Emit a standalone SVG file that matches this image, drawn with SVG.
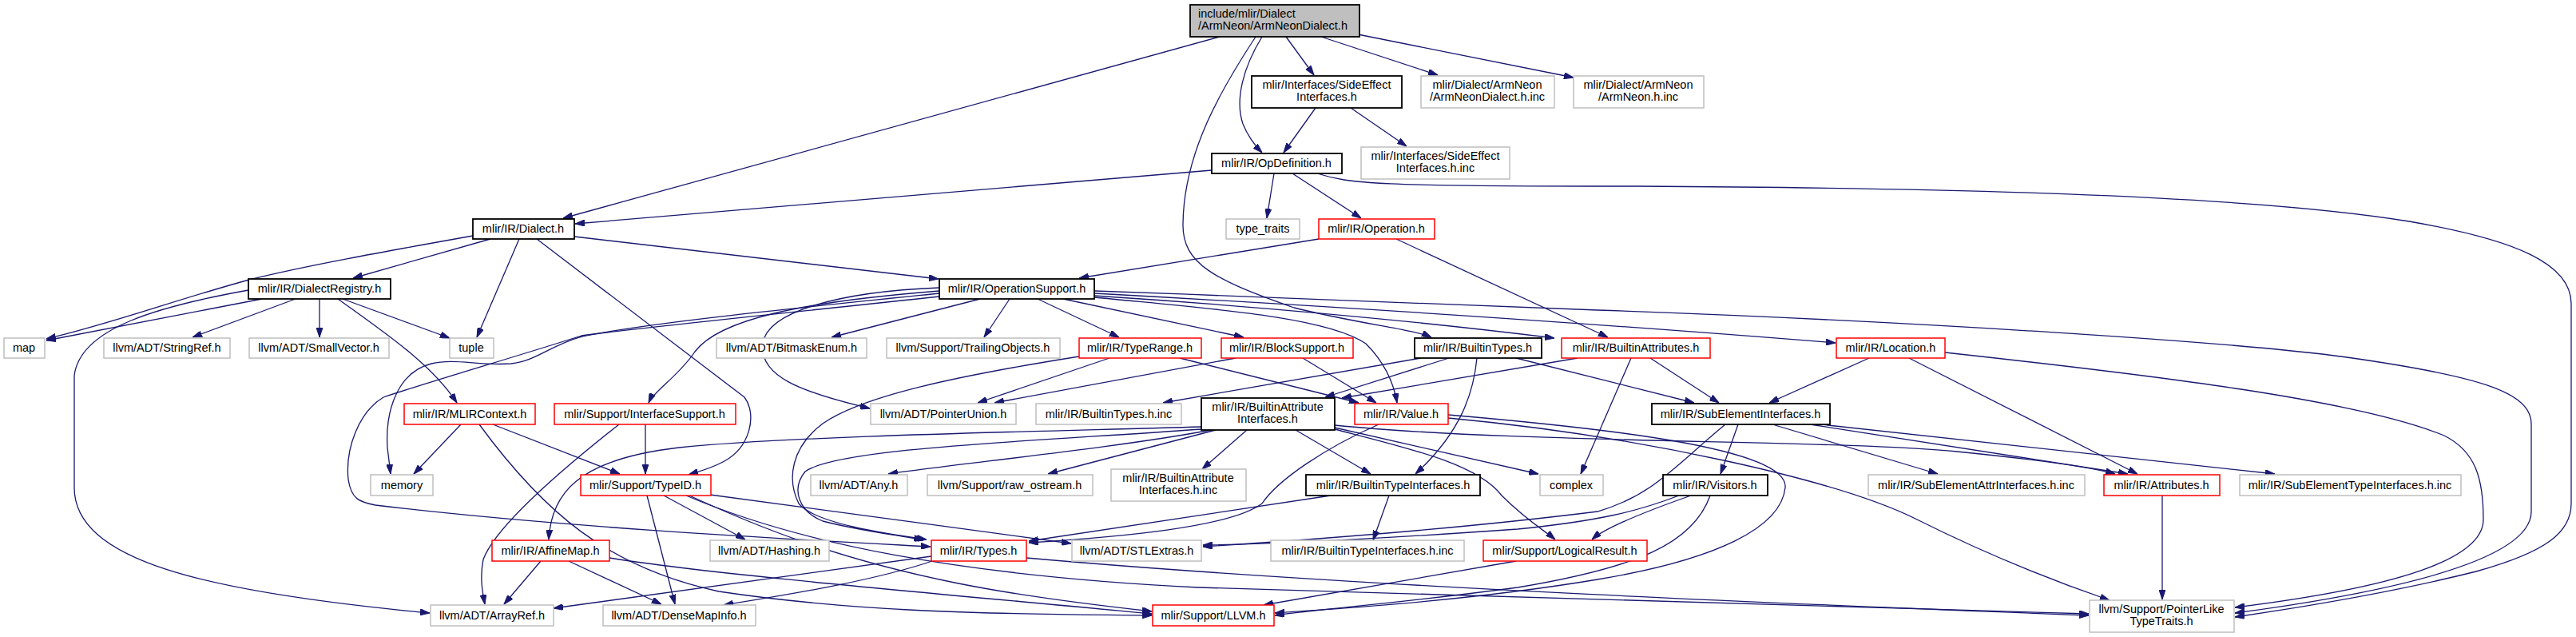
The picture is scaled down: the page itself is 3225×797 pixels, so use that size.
<svg xmlns="http://www.w3.org/2000/svg" width="3225" height="797" viewBox="0 0 3225 797">
<defs>
<marker id="a" markerWidth="12" markerHeight="8" refX="12" refY="4" orient="auto" markerUnits="userSpaceOnUse"><path d="M0,0 L12,4 L0,8 z" fill="#191970" stroke="#191970" stroke-width="1"/></marker>
</defs>
<style>
.k{fill:#fff;stroke:#000;stroke-width:1.8}
.r{fill:#fff;stroke:#ff0000;stroke-width:1.5}
.g{fill:#fff;stroke:#bfbfbf;stroke-width:1.5}
.root{fill:#bfbfbf;stroke:#000;stroke-width:1.8}
text{font-family:"Liberation Sans",Arial,sans-serif;font-size:14.5px;fill:#000;text-anchor:middle}
.e path{fill:none;stroke:#191970;stroke-width:1.3;marker-end:url(#a)}
</style>
<rect width="3225" height="797" fill="#fff"/>
<g class="e">
<path d="M1527,46 L705,273"/>
<path d="M1572,46 C1530,110 1482,190 1481,280 C1480,330 1520,350 1620,385 C1700,405 1770,412 1792,422"/>
<path d="M1580,46 C1556,85 1546,125 1556,155 C1563,172 1572,183 1580,191"/>
<path d="M1610,46 L1645,94"/>
<path d="M1654,46 L1800,94"/>
<path d="M1700,43 L1970,97"/>
<path d="M1647,135 L1607,191"/>
<path d="M1691,135 L1761,183"/>
<path d="M1517,213 L720,280"/>
<path d="M1595,217 L1586,273"/>
<path d="M1618,217 L1704,273"/>
<path d="M1649,217 C1690,230 1720,233 2050,233 C2400,235 2800,242 3016,277 C3150,300 3219,330 3219,380 L3219,630 C3219,665 3190,690 3100,715 C3000,740 2880,760 2798,772"/>
<path d="M1651,299 L1351,348"/>
<path d="M1748,299 L2013,422"/>
<path d="M614,299 L442,348"/>
<path d="M719,296 L1175,349"/>
<path d="M592,295 C480,315 380,333 312,350 C220,375 140,405 58,424"/>
<path d="M650,299 L597,422"/>
<path d="M672,299 L932,497 C948,518 940,560 905,578 C890,586 875,590 862,594"/>
<path d="M328,374 L58,426"/>
<path d="M370,374 L241,422"/>
<path d="M400,374 L400,422"/>
<path d="M429,374 L563,423"/>
<path d="M423,374 C480,415 540,455 572,504"/>
<path d="M311,363 C200,383 100,410 93,470 L93,610 C93,700 250,740 538,767"/>
<path d="M1227,374 L1041,422"/>
<path d="M1264,374 L1232,422"/>
<path d="M1299,374 L1401,422"/>
<path d="M1331,374 L1557,422"/>
<path d="M1370,370 C1600,385 1800,405 1946,423"/>
<path d="M1370,367 C1700,385 2000,405 2298,429"/>
<path d="M1370,364 C1600,372 1850,383 2000,388 C2400,402 2800,428 2938,447 C3100,470 3169,490 3169,530 L3169,640 C3169,700 3000,740 2798,767"/>
<path d="M1176,360 C1050,365 960,390 955,430 C950,470 1000,490 1089,511"/>
<path d="M1176,364 C1000,378 900,400 870,440 C850,470 818,490 812,504"/>
<path d="M1176,367 C1000,385 800,405 725,422 C690,432 670,452 640,455 C600,458 570,448 540,455 C500,465 482,510 485,560 L489,593"/>
<path d="M1176,371 C1000,390 800,410 728,420 C650,445 530,480 480,497 C450,515 432,560 436,600 C440,625 450,628 470,632 C700,660 1000,675 1165,684"/>
<path d="M1370,372 C1500,385 1660,395 1710,430 C1735,455 1745,480 1749,504"/>
<path d="M1389,448 L1224,504"/>
<path d="M1477,448 L1701,504"/>
<path d="M1351,446 C1200,470 1080,495 1030,530 C990,560 985,600 1000,630 C1020,655 1110,668 1160,675"/>
<path d="M1547,448 L1245,504"/>
<path d="M1631,448 L1723,504"/>
<path d="M1779,448 L1456,504"/>
<path d="M1814,448 L1659,497"/>
<path d="M1849,448 C1845,490 1830,540 1772,593"/>
<path d="M1898,448 L2121,504"/>
<path d="M1975,448 L1680,498"/>
<path d="M2042,448 L1979,593"/>
<path d="M2066,448 L2152,504"/>
<path d="M2340,448 L2215,504"/>
<path d="M2390,448 L2676,593"/>
<path d="M2435,441 C2700,470 2950,500 3060,545 C3100,565 3109,600 3109,650 C3109,700 3000,735 2798,760"/>
<path d="M577,531 L518,593"/>
<path d="M617,531 L776,593"/>
<path d="M600,531 C680,640 760,710 900,740 C1100,770 1300,768 1442,770"/>
<path d="M808,531 L808,593"/>
<path d="M775,531 C700,590 620,660 605,700 C600,725 605,745 607,756"/>
<path d="M831,620 L933,675"/>
<path d="M810,620 L845,756"/>
<path d="M889,619 C1000,635 1200,660 1341,680"/>
<path d="M863,620 C950,660 1050,700 1200,730 C1300,750 1400,760 1442,765"/>
<path d="M859,620 C1000,680 1200,720 1500,735 C1900,750 2300,760 2615,768"/>
<path d="M677,702 L631,756"/>
<path d="M712,702 L828,756"/>
<path d="M763,698 C900,720 1200,745 1442,768"/>
<path d="M1166,696 L693,761"/>
<path d="M1170,701 C1100,725 1000,742 906,757"/>
<path d="M1285,698 C1700,735 2300,758 2615,770"/>
<path d="M1726,531 C1660,560 1600,600 1580,630 C1540,660 1400,672 1288,679"/>
<path d="M1813,519 C2000,535 2240,560 2235,610 C2230,660 2150,700 2000,725 C1850,750 1700,760 1596,767"/>
<path d="M1813,523 C2050,545 2300,600 2400,650 C2500,700 2580,730 2641,751"/>
<path d="M1516,538 C1400,560 1200,580 1112,593"/>
<path d="M1522,538 L1312,593"/>
<path d="M1561,538 L1505,587"/>
<path d="M1622,538 L1716,593"/>
<path d="M1671,535 L1926,593"/>
<path d="M1671,537 C1760,560 1850,580 1880,620 C1910,650 1935,665 1947,675"/>
<path d="M1671,532 C1900,555 2300,550 2450,565 C2550,575 2620,585 2648,593"/>
<path d="M1504,534 C1300,540 1000,545 850,560 C720,575 690,620 687,675"/>
<path d="M1504,537 C1300,552 1050,560 1008,590 C990,612 1000,640 1030,652 C1080,665 1130,670 1156,676"/>
<path d="M1666,620 L1288,677"/>
<path d="M1739,620 L1719,676"/>
<path d="M2176,531 L2154,593"/>
<path d="M2219,531 L2426,593"/>
<path d="M2266,531 L2664,593"/>
<path d="M2270,530 L2848,593"/>
<path d="M2160,531 C2100,580 2070,620 2000,640 C1800,665 1600,678 1506,684"/>
<path d="M2102,620 C2050,640 2000,652 1900,662 C1700,676 1580,681 1506,682"/>
<path d="M2117,620 C2060,640 2010,660 1993,675"/>
<path d="M2141,620 C2120,680 2050,710 1900,735 C1750,755 1650,762 1596,770"/>
<path d="M1898,702 L1582,757"/>
<path d="M2707,620 L2707,750"/>
</g>
<g id="n0"><rect class="root" x="1490" y="6" width="212" height="40"/><text x="1500" y="22" style="text-anchor:start">include/mlir/Dialect</text><text x="1500" y="37" style="text-anchor:start">/ArmNeon/ArmNeonDialect.h</text></g>
<g id="n1"><rect class="k" x="1567" y="95" width="188" height="40"/><text x="1661" y="111">mlir/Interfaces/SideEffect</text><text x="1661" y="126">Interfaces.h</text></g>
<g id="n2"><rect class="g" x="1779" y="95" width="167" height="40"/><text x="1862" y="111">mlir/Dialect/ArmNeon</text><text x="1862" y="126">/ArmNeonDialect.h.inc</text></g>
<g id="n3"><rect class="g" x="1970" y="95" width="163" height="40"/><text x="2051" y="111">mlir/Dialect/ArmNeon</text><text x="2051" y="126">/ArmNeon.h.inc</text></g>
<g id="n4"><rect class="k" x="1517" y="192" width="163" height="25"/><text x="1598" y="209">mlir/IR/OpDefinition.h</text></g>
<g id="n5"><rect class="g" x="1704" y="184" width="186" height="40"/><text x="1797" y="200">mlir/Interfaces/SideEffect</text><text x="1797" y="215">Interfaces.h.inc</text></g>
<g id="n6"><rect class="k" x="592" y="274" width="127" height="25"/><text x="655" y="291">mlir/IR/Dialect.h</text></g>
<g id="n7"><rect class="g" x="1535" y="274" width="92" height="25"/><text x="1581" y="291">type_traits</text></g>
<g id="n8"><rect class="r" x="1651" y="274" width="145" height="25"/><text x="1723" y="291">mlir/IR/Operation.h</text></g>
<g id="n9"><rect class="k" x="311" y="349" width="178" height="25"/><text x="400" y="366">mlir/IR/DialectRegistry.h</text></g>
<g id="n10"><rect class="k" x="1176" y="349" width="194" height="25"/><text x="1273" y="366">mlir/IR/OperationSupport.h</text></g>
<g id="n11"><rect class="g" x="5" y="423" width="51" height="25"/><text x="30" y="440">map</text></g>
<g id="n12"><rect class="g" x="130" y="423" width="158" height="25"/><text x="209" y="440">llvm/ADT/StringRef.h</text></g>
<g id="n13"><rect class="g" x="312" y="423" width="175" height="25"/><text x="399" y="440">llvm/ADT/SmallVector.h</text></g>
<g id="n14"><rect class="g" x="563" y="423" width="55" height="25"/><text x="590" y="440">tuple</text></g>
<g id="n15"><rect class="g" x="897" y="423" width="188" height="25"/><text x="991" y="440">llvm/ADT/BitmaskEnum.h</text></g>
<g id="n16"><rect class="g" x="1110" y="423" width="217" height="25"/><text x="1218" y="440">llvm/Support/TrailingObjects.h</text></g>
<g id="n17"><rect class="r" x="1351" y="423" width="153" height="25"/><text x="1427" y="440">mlir/IR/TypeRange.h</text></g>
<g id="n18"><rect class="r" x="1529" y="423" width="165" height="25"/><text x="1611" y="440">mlir/IR/BlockSupport.h</text></g>
<g id="n19"><rect class="k" x="1771" y="423" width="159" height="25"/><text x="1850" y="440">mlir/IR/BuiltinTypes.h</text></g>
<g id="n20"><rect class="r" x="1955" y="423" width="186" height="25"/><text x="2048" y="440">mlir/IR/BuiltinAttributes.h</text></g>
<g id="n21"><rect class="r" x="2299" y="423" width="136" height="25"/><text x="2367" y="440">mlir/IR/Location.h</text></g>
<g id="n22"><rect class="r" x="506" y="505" width="164" height="26"/><text x="588" y="523">mlir/IR/MLIRContext.h</text></g>
<g id="n23"><rect class="r" x="694" y="505" width="227" height="26"/><text x="807" y="523">mlir/Support/InterfaceSupport.h</text></g>
<g id="n24"><rect class="g" x="1090" y="505" width="182" height="26"/><text x="1181" y="523">llvm/ADT/PointerUnion.h</text></g>
<g id="n25"><rect class="g" x="1297" y="505" width="182" height="26"/><text x="1388" y="523">mlir/IR/BuiltinTypes.h.inc</text></g>
<g id="n26"><rect class="k" x="1504" y="498" width="167" height="40"/><text x="1587" y="514">mlir/IR/BuiltinAttribute</text><text x="1587" y="529">Interfaces.h</text></g>
<g id="n27"><rect class="r" x="1696" y="505" width="117" height="26"/><text x="1754" y="523">mlir/IR/Value.h</text></g>
<g id="n28"><rect class="k" x="2068" y="505" width="223" height="26"/><text x="2179" y="523">mlir/IR/SubElementInterfaces.h</text></g>
<g id="n29"><rect class="g" x="464" y="594" width="78" height="26"/><text x="503" y="612">memory</text></g>
<g id="n30"><rect class="r" x="727" y="594" width="163" height="26"/><text x="808" y="612">mlir/Support/TypeID.h</text></g>
<g id="n31"><rect class="g" x="1015" y="594" width="121" height="26"/><text x="1075" y="612">llvm/ADT/Any.h</text></g>
<g id="n32"><rect class="g" x="1161" y="594" width="207" height="26"/><text x="1264" y="612">llvm/Support/raw_ostream.h</text></g>
<g id="n33"><rect class="g" x="1391" y="587" width="169" height="40"/><text x="1475" y="603">mlir/IR/BuiltinAttribute</text><text x="1475" y="618">Interfaces.h.inc</text></g>
<g id="n34"><rect class="k" x="1635" y="594" width="218" height="26"/><text x="1744" y="612">mlir/IR/BuiltinTypeInterfaces.h</text></g>
<g id="n35"><rect class="g" x="1928" y="594" width="79" height="26"/><text x="1967" y="612">complex</text></g>
<g id="n36"><rect class="k" x="2082" y="594" width="131" height="26"/><text x="2147" y="612">mlir/IR/Visitors.h</text></g>
<g id="n37"><rect class="g" x="2339" y="594" width="271" height="26"/><text x="2474" y="612">mlir/IR/SubElementAttrInterfaces.h.inc</text></g>
<g id="n38"><rect class="r" x="2634" y="594" width="145" height="26"/><text x="2706" y="612">mlir/IR/Attributes.h</text></g>
<g id="n39"><rect class="g" x="2804" y="594" width="277" height="26"/><text x="2942" y="612">mlir/IR/SubElementTypeInterfaces.h.inc</text></g>
<g id="n40"><rect class="r" x="616" y="676" width="147" height="26"/><text x="689" y="694">mlir/IR/AffineMap.h</text></g>
<g id="n41"><rect class="g" x="889" y="676" width="149" height="26"/><text x="963" y="694">llvm/ADT/Hashing.h</text></g>
<g id="n42"><rect class="r" x="1166" y="676" width="119" height="26"/><text x="1225" y="694">mlir/IR/Types.h</text></g>
<g id="n43"><rect class="g" x="1342" y="676" width="162" height="26"/><text x="1423" y="694">llvm/ADT/STLExtras.h</text></g>
<g id="n44"><rect class="g" x="1591" y="676" width="242" height="26"/><text x="1712" y="694">mlir/IR/BuiltinTypeInterfaces.h.inc</text></g>
<g id="n45"><rect class="r" x="1857" y="676" width="205" height="26"/><text x="1959" y="694">mlir/Support/LogicalResult.h</text></g>
<g id="n46"><rect class="g" x="539" y="757" width="154" height="26"/><text x="616" y="775">llvm/ADT/ArrayRef.h</text></g>
<g id="n47"><rect class="g" x="755" y="757" width="191" height="26"/><text x="850" y="775">llvm/ADT/DenseMapInfo.h</text></g>
<g id="n48"><rect class="r" x="1443" y="757" width="152" height="26"/><text x="1519" y="775">mlir/Support/LLVM.h</text></g>
<g id="n49"><rect class="g" x="2616" y="751" width="181" height="40"/><text x="2706" y="767">llvm/Support/PointerLike</text><text x="2706" y="782">TypeTraits.h</text></g>
</svg>
